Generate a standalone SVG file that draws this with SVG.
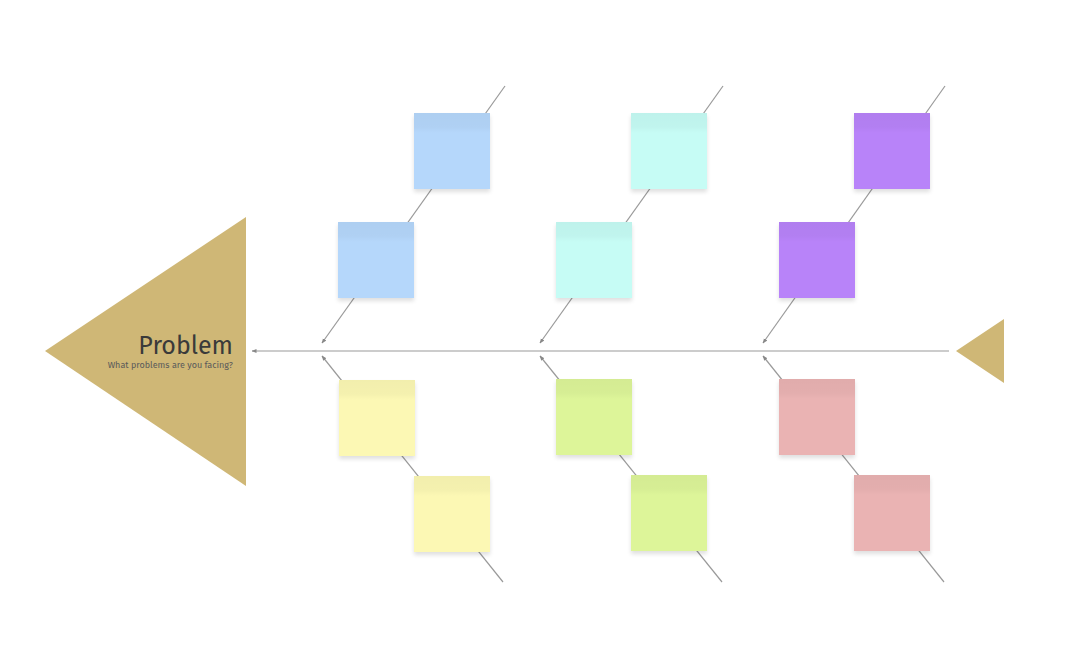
<svg xmlns="http://www.w3.org/2000/svg" width="1080" height="669" viewBox="0 0 1080 669">
<style>
.bone{stroke:#9a9a9a;stroke-width:1.2;fill:none}
.gold{fill:#cfb776}
.title{font-family:"Fira Sans","Noto Sans","Open Sans",sans-serif;fill:#3a3a3a}
</style>
<defs>
<marker id="ah" viewBox="0 0 10 10" refX="9" refY="5" markerWidth="5" markerHeight="5" orient="auto-start-reverse" markerUnits="userSpaceOnUse">
<path d="M0,1 L10,5 L0,9 z" fill="#888"/>
</marker>
<filter id="sh" x="-10%" y="-10%" width="120%" height="130%">
<feGaussianBlur in="SourceAlpha" stdDeviation="2"/>
<feOffset dy="3"/>
<feComponentTransfer><feFuncA type="linear" slope="0.13"/></feComponentTransfer>
<feMerge><feMergeNode/><feMergeNode in="SourceGraphic"/></feMerge>
</filter>
<linearGradient id="bandg" x1="0" y1="0" x2="0" y2="1">
<stop offset="0" stop-color="#000" stop-opacity="0.04"/>
<stop offset="0.7" stop-color="#000" stop-opacity="0.03"/>
<stop offset="1" stop-color="#000" stop-opacity="0"/>
</linearGradient>
<symbol id="band" viewBox="0 0 76 20"><rect width="76" height="20" fill="url(#bandg)"/></symbol>
</defs>
<rect width="1080" height="669" fill="#fff"/>

<g id="connectors">
<line class="bone" x1="949" y1="351" x2="252" y2="351" marker-end="url(#ah)"/>
<line class="bone" x1="505" y1="86" x2="322" y2="343" marker-end="url(#ah)"/>
<line class="bone" x1="723" y1="86" x2="540" y2="343" marker-end="url(#ah)"/>
<line class="bone" x1="945" y1="86" x2="763" y2="343" marker-end="url(#ah)"/>
<line class="bone" x1="503" y1="582" x2="322" y2="356" marker-end="url(#ah)"/>
<line class="bone" x1="722" y1="582" x2="540" y2="356" marker-end="url(#ah)"/>
<line class="bone" x1="944" y1="582" x2="763" y2="356" marker-end="url(#ah)"/>
</g>

<g id="head">
<polygon class="gold" points="45,351 246,217 246,486"/>
<text class="title" x="233" y="354" font-size="25" text-anchor="end">Problem</text>
<text class="title" x="233" y="368" font-size="9" text-anchor="end" style="fill:#5a5a5a">What problems are you facing?</text>
</g>
<g id="tail">
<polygon class="gold" points="956,351 1004,319 1004,383"/>
</g>

<g id="note-blue-1" filter="url(#sh)"><rect x="414" y="113" width="76" height="76" fill="#b5d7fb"/><use href="#band" x="414" y="113" width="76" height="20"/></g>
<g id="note-blue-2" filter="url(#sh)"><rect x="338" y="222" width="76" height="76" fill="#b5d7fb"/><use href="#band" x="338" y="222" width="76" height="20"/></g>
<g id="note-cyan-1" filter="url(#sh)"><rect x="631" y="113" width="76" height="76" fill="#c6fcf5"/><use href="#band" x="631" y="113" width="76" height="20"/></g>
<g id="note-cyan-2" filter="url(#sh)"><rect x="556" y="222" width="76" height="76" fill="#c6fcf5"/><use href="#band" x="556" y="222" width="76" height="20"/></g>
<g id="note-purple-1" filter="url(#sh)"><rect x="854" y="113" width="76" height="76" fill="#b883f9"/><use href="#band" x="854" y="113" width="76" height="20"/></g>
<g id="note-purple-2" filter="url(#sh)"><rect x="779" y="222" width="76" height="76" fill="#b883f9"/><use href="#band" x="779" y="222" width="76" height="20"/></g>
<g id="note-yellow-1" filter="url(#sh)"><rect x="339" y="380" width="76" height="76" fill="#fcf8b4"/><use href="#band" x="339" y="380" width="76" height="20"/></g>
<g id="note-yellow-2" filter="url(#sh)"><rect x="414" y="476" width="76" height="76" fill="#fcf8b4"/><use href="#band" x="414" y="476" width="76" height="20"/></g>
<g id="note-green-1" filter="url(#sh)"><rect x="556" y="379" width="76" height="76" fill="#ddf599"/><use href="#band" x="556" y="379" width="76" height="20"/></g>
<g id="note-green-2" filter="url(#sh)"><rect x="631" y="475" width="76" height="76" fill="#ddf599"/><use href="#band" x="631" y="475" width="76" height="20"/></g>
<g id="note-pink-1" filter="url(#sh)"><rect x="779" y="379" width="76" height="76" fill="#eab3b3"/><use href="#band" x="779" y="379" width="76" height="20"/></g>
<g id="note-pink-2" filter="url(#sh)"><rect x="854" y="475" width="76" height="76" fill="#eab3b3"/><use href="#band" x="854" y="475" width="76" height="20"/></g>
</svg>
